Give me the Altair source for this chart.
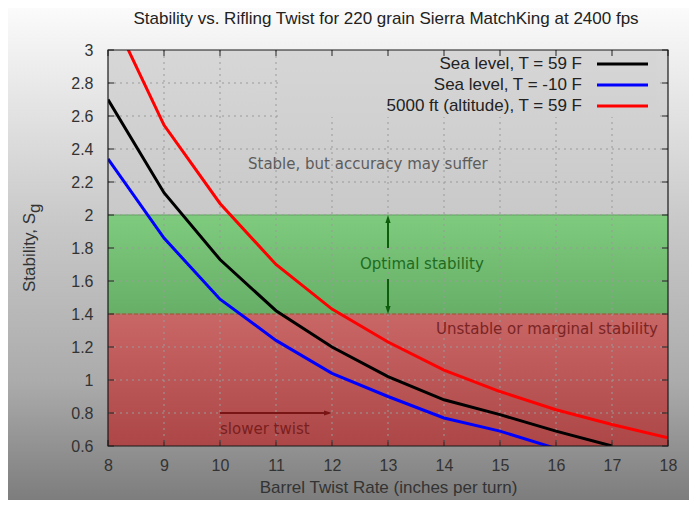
import altair as alt
import pandas as pd

# ---------------- data ----------------
twist_sea59 = [8, 9, 10, 11, 12, 13, 14, 15, 16, 17]
sg_sea59 = [2.70, 2.135, 1.73, 1.42, 1.20, 1.02, 0.88, 0.79, 0.69, 0.60]

twist_seaM10 = [8, 9, 10, 11, 12, 13, 14, 15, 16]
sg_seaM10 = [2.34, 1.86, 1.49, 1.24, 1.04, 0.90, 0.77, 0.69, 0.585]

twist_alt5000 = [8, 9, 10, 11, 12, 13, 14, 15, 16, 17, 18]
sg_alt5000 = [3.26, 2.545, 2.07, 1.70, 1.43, 1.23, 1.06, 0.93, 0.82, 0.73, 0.65]

series_names = ["Sea level, T = 59 F", "Sea level, T = -10 F", "5000 ft (altitude), T = 59 F"]
series_colors = ["#000000", "#0000ff", "#ff0000"]

x_ticks = [8, 9, 10, 11, 12, 13, 14, 15, 16, 17, 18]
y_ticks = [0.6, 0.8, 1.0, 1.2, 1.4, 1.6, 1.8, 2.0, 2.2, 2.4, 2.6, 2.8, 3.0]

band_names = ["stable", "optimal", "unstable"]
band_low = [2.0, 1.4, 0.6]
band_high = [3.0, 2.0, 1.4]
band_texts = ["Stable, but accuracy may suffer", "Optimal stability", "Unstable or marginal stability"]
arrow_text = "slower twist"

TITLE = "Stability vs. Rifling Twist for 220 grain Sierra MatchKing at 2400 fps"
X_TITLE = "Barrel Twist Rate (inches per turn)"
Y_TITLE = "Stability, S"
Y_SUB = "g"

# ---------------- styles ----------------
W, H = 560, 396
SANS = "Liberation Sans"
ANNO = "DejaVu Sans"
band_top = ["#d7d7d7", "#7ecb7e", "#c96666"]
band_bot = ["#c9c9c9", "#67af67", "#ad4747"]


def grad(stops):
    return alt.Gradient(
        gradient="linear",
        stops=[alt.GradientStop(color=c, offset=o) for o, c in stops],
        x1=0, y1=0, x2=0, y2=1,
    )


xs = alt.Scale(domain=[x_ticks[0], x_ticks[-1]], nice=False, zero=False)
ys = alt.Scale(domain=[y_ticks[0], y_ticks[-1]], nice=False, zero=False)

AX = alt.Axis(values=x_ticks, title=X_TITLE, grid=False, ticks=False, domain=False, zindex=2,
              labelFont=SANS, labelFontSize=16, labelColor="#333333", labelPadding=11,
              labelFlush=False, titleFont=SANS, titleFontSize=17, titleFontWeight="normal",
              titleColor="#333333", titlePadding=6)
AY = alt.Axis(values=y_ticks, title=None, grid=False, ticks=False, domain=False, zindex=2,
              format=".1~f", labelFont=SANS, labelFontSize=16, labelColor="#333333",
              labelPadding=15, labelFlush=False, labelOverlap=False)


def X(f):
    return alt.X(f, scale=xs, axis=AX)


def Y(f):
    return alt.Y(f, scale=ys, axis=AY)


one = pd.DataFrame({"k": [1]})

# page background gradient
bg = alt.Chart(one).mark_rect(
    color=grad([(0, "#fbfbfb"), (0.43, "#c9c9c9"), (0.76, "#ababab"), (1, "#7d7d7d")]),
    clip=False,
).encode(x=alt.value(-100), x2=alt.value(W + 21), y=alt.value(-42), y2=alt.value(H + 54))

# stability bands
bands_df = pd.DataFrame({"band": band_names, "lo": band_low, "hi": band_high,
                         "x0": [x_ticks[0]] * 3, "x1": [x_ticks[-1]] * 3})
band_layers = []
for i, nm in enumerate(band_names):
    band_layers.append(
        alt.Chart(bands_df[bands_df["band"] == nm]).mark_rect(
            color=grad([(0, band_top[i]), (1, band_bot[i])])
        ).encode(x=X("x0:Q"), x2="x1:Q", y=Y("hi:Q"), y2="lo:Q")
    )

opt_df = bands_df[bands_df["band"] == "optimal"]
edge_top = alt.Chart(opt_df).mark_rule(color="#5aa85a", strokeWidth=1).encode(y=Y("hi:Q"))
edge_bot = alt.Chart(opt_df).mark_rule(color="#a0502c", strokeWidth=1).encode(y=Y("lo:Q"))

# dotted grid
gx = pd.DataFrame({"v": x_ticks[1:-1]})
gy = pd.DataFrame({"v": y_ticks[1:-1]})
grid_x = alt.Chart(gx).mark_rule(color="#9a9a9a", strokeDash=[2, 4], strokeWidth=1).encode(x=X("v:Q"))
grid_y = alt.Chart(gy).mark_rule(color="#9a9a9a", strokeDash=[2, 4], strokeWidth=1).encode(y=Y("v:Q"))

# opaque key box
key_box = alt.Chart(one).mark_rect(color=grad([(0, "#d6d6d6"), (1, "#d1d1d1")])).encode(
    x=alt.value(171), x2=alt.value(548), y=alt.value(1), y2=alt.value(67))


# annotations (anchors in data units)
def txt(s, x, y, color, align="left"):
    d = pd.DataFrame({"x": [x], "y": [y], "t": [s]})
    return alt.Chart(d).mark_text(
        font=ANNO, fontSize=15, color=color, align=align, baseline="middle"
    ).encode(x=X("x:Q"), y=Y("y:Q"), text="t:N")


t_stable = txt(band_texts[0], 10.5, 2.31, "#5c5c5c")
t_opt = txt(band_texts[1], 12.5, 1.705, "#216b21")
t_unst = txt(band_texts[2], 17.82, 1.31, "#7a2525", align="right")
t_slow = txt(arrow_text, 10.0, 0.705, "#7a1f1f")


def seg(x1, y1, x2, y2, color):
    d = pd.DataFrame({"x": [x1], "y": [y1], "x2": [x2], "y2": [y2]})
    return alt.Chart(d).mark_rule(color=color, strokeWidth=2).encode(
        x=X("x:Q"), x2="x2:Q", y=Y("y:Q"), y2="y2:Q")


def head(x, y, shape, color):
    d = pd.DataFrame({"x": [x], "y": [y]})
    return alt.Chart(d).mark_point(shape=shape, filled=True, size=64, color=color, opacity=1,
                                   strokeWidth=0).encode(x=X("x:Q"), y=Y("y:Q"))


GREEN = "#0d5d0d"
DRED = "#7a1515"
arr = [
    seg(13, 1.97, 13, 1.80, GREEN),
    seg(13, 1.612, 13, 1.43, GREEN),
    head(13, 2.0, "M0,0L0.65,2L-0.65,2Z", GREEN),
    head(13, 1.4, "M0,0L0.65,-2L-0.65,-2Z", GREEN),
    seg(10, 0.8, 11.9, 0.8, DRED),
    head(12, 0.8, "M0,0L-2,0.65L-2,-0.65Z", DRED),
]

# curves
rows = []
for name, tw, sg in [(series_names[0], twist_sea59, sg_sea59),
                     (series_names[1], twist_seaM10, sg_seaM10),
                     (series_names[2], twist_alt5000, sg_alt5000)]:
    for a, b in zip(tw, sg):
        rows.append({"series": name, "twist": a, "sg": b})
curves_df = pd.DataFrame(rows)

curves = alt.Chart(curves_df).mark_line(strokeWidth=3, clip=True).encode(
    x=X("twist:Q"),
    y=Y("sg:Q"),
    color=alt.Color("series:N", scale=alt.Scale(domain=series_names, range=series_colors), legend=None),
)

# inward ticks on all four sides
tx = pd.DataFrame({"v": x_ticks})
ty = pd.DataFrame({"v": y_ticks})
TICK = "#222222"
ticks = [
    alt.Chart(ty).mark_rule(color=TICK).encode(y=Y("v:Q"), x=alt.value(0), x2=alt.value(6)),
    alt.Chart(ty).mark_rule(color=TICK).encode(y=Y("v:Q"), x=alt.value(W - 6), x2=alt.value(W)),
    alt.Chart(tx).mark_rule(color=TICK).encode(x=X("v:Q"), y=alt.value(H - 6), y2=alt.value(H)),
    alt.Chart(tx).mark_rule(color=TICK).encode(x=X("v:Q"), y=alt.value(0), y2=alt.value(6)),
]
border = alt.Chart(one).mark_rect(filled=False, stroke="#1a1a1a", strokeWidth=1.2).encode(
    x=alt.value(0), x2=alt.value(W), y=alt.value(0), y2=alt.value(H))

# key entries
key = []
for i, nm in enumerate(series_names):
    yy = 14 + 21 * i
    kd = pd.DataFrame({"t": [nm]})
    key.append(alt.Chart(kd).mark_text(font=SANS, fontSize=17, color="#222222",
                                       align="right", baseline="middle").encode(
        x=alt.value(474), y=alt.value(yy), text="t:N"))
    key.append(alt.Chart(kd).mark_rule(color=series_colors[i], strokeWidth=3).encode(
        x=alt.value(489), x2=alt.value(540), y=alt.value(yy)))

# chart title and y-axis title with subscript
tt = pd.DataFrame({"t": [TITLE]})
title = alt.Chart(tt).mark_text(font=SANS, fontSize=17, color="#222222", align="center",
                                baseline="alphabetic").encode(
    x=alt.value(278), y=alt.value(-26), text="t:N")

yt = pd.DataFrame({"t": [Y_TITLE], "s": [Y_SUB]})
ytitle = alt.Chart(yt).mark_text(font=SANS, fontSize=17, color="#333333",
                                 angle=270, align="right", baseline="alphabetic").encode(
    x=alt.value(-73), y=alt.value(163), text="t:N")
ysub = alt.Chart(yt).mark_text(font=SANS, fontSize=17, color="#333333",
                               angle=270, align="left", baseline="alphabetic").encode(
    x=alt.value(-68.5), y=alt.value(163), text="s:N")

chart = alt.layer(
    bg, *band_layers, edge_top, edge_bot, grid_x, grid_y, key_box,
    t_stable, t_opt, t_unst, t_slow, *arr, curves, *ticks, border, *key, title, ytitle, ysub,
).properties(
    width=W, height=H,
    autosize=alt.AutoSizeParams(type="none"),
    padding={"left": 100, "top": 42, "right": 21, "bottom": 54},
).configure_view(stroke=None)

chart.save("out.html", embed_options={"renderer": "svg", "actions": False})
